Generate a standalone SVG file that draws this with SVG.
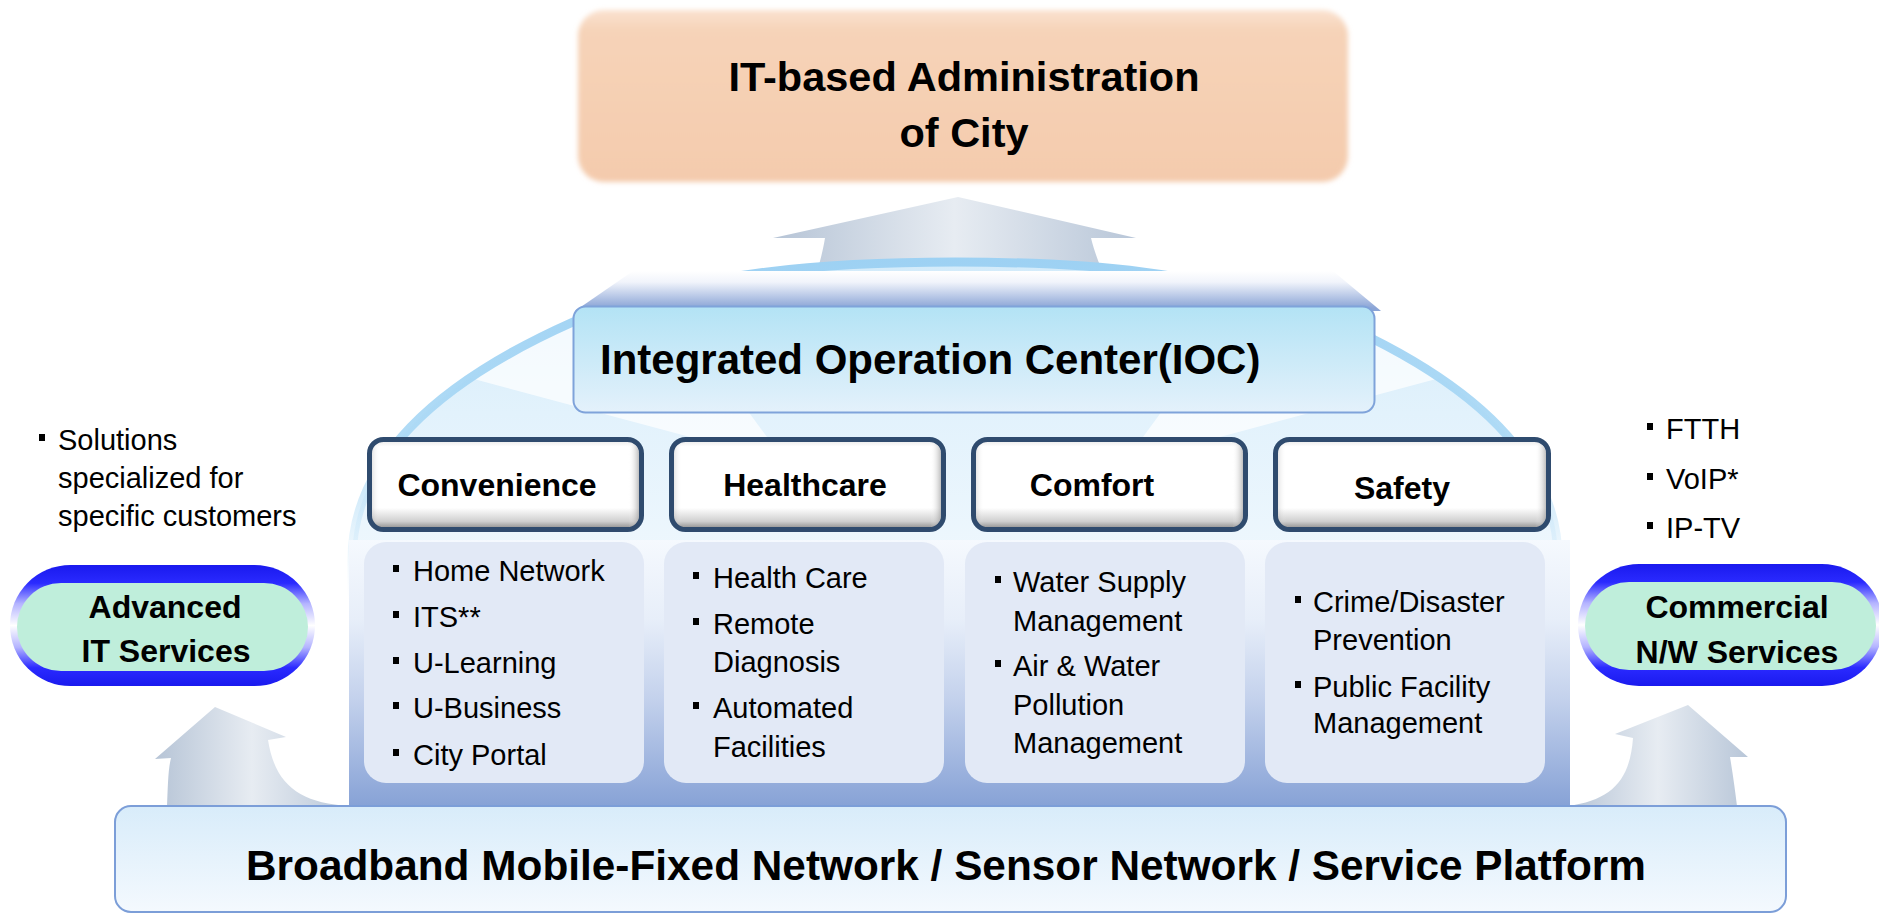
<svg xmlns="http://www.w3.org/2000/svg" width="1879" height="914" viewBox="0 0 1879 914">
<defs>
<style>
.t{font-family:"Liberation Sans",Arial,sans-serif;fill:#000}
.bt{font-weight:bold}
.body{font-size:29px}
.cat{font-size:32px;font-weight:bold;text-anchor:middle}
.pill{font-size:32px;font-weight:bold;text-anchor:middle}
.catbox{fill:url(#catFill);stroke:#2f4b6e;stroke-width:5}
.catside{fill:url(#catSide)}
.panel{fill:#e2e9f6}
.arrow{fill:url(#arrowG)}
.ring{fill:url(#ringG)}
.mint{fill:#bfeedb}
</style>
<linearGradient id="arrowG" x1="0" y1="0" x2="1" y2="0">
<stop offset="0" stop-color="#b6c4d6"/><stop offset="0.5" stop-color="#e7ecf2"/><stop offset="1" stop-color="#b8c6d8"/>
</linearGradient>
<linearGradient id="domeFill" gradientUnits="userSpaceOnUse" x1="0" y1="262" x2="0" y2="640">
<stop offset="0" stop-color="#d3ebfa"/><stop offset="0.4" stop-color="#e2f2fc"/><stop offset="1" stop-color="#f5fafe"/>
</linearGradient>
<linearGradient id="arcStroke" gradientUnits="userSpaceOnUse" x1="0" y1="255" x2="0" y2="600">
<stop offset="0" stop-color="#9dd1f3"/><stop offset="0.55" stop-color="#a9d8f5" stop-opacity="0.9"/><stop offset="1" stop-color="#cfe9fa" stop-opacity="0"/>
</linearGradient>
<linearGradient id="roofG" gradientUnits="userSpaceOnUse" x1="0" y1="271" x2="0" y2="308">
<stop offset="0" stop-color="#ffffff"/><stop offset="0.3" stop-color="#f1f4fb"/><stop offset="1" stop-color="#8aa4d6"/>
</linearGradient>
<linearGradient id="bodyG" gradientUnits="userSpaceOnUse" x1="0" y1="540" x2="0" y2="806">
<stop offset="0" stop-color="#f5f9fe"/><stop offset="0.3" stop-color="#e7eef9"/><stop offset="0.6" stop-color="#c3d1ec"/><stop offset="1" stop-color="#87a2d6"/>
</linearGradient>
<linearGradient id="iocG" x1="0" y1="0" x2="0" y2="1">
<stop offset="0" stop-color="#b3e3f5"/><stop offset="1" stop-color="#e4f1fb"/>
</linearGradient>
<linearGradient id="adminG" x1="0" y1="0" x2="0" y2="1">
<stop offset="0" stop-color="#fae2d0"/><stop offset="0.12" stop-color="#f6d3b8"/><stop offset="1" stop-color="#f4cbad"/>
</linearGradient>
<linearGradient id="baseG" x1="0" y1="0" x2="0" y2="1">
<stop offset="0" stop-color="#d8ecfa"/><stop offset="1" stop-color="#f4f9fe"/>
</linearGradient>
<linearGradient id="catFill" x1="0" y1="0" x2="0" y2="1">
<stop offset="0" stop-color="#e6e6e6"/><stop offset="0.08" stop-color="#ffffff"/><stop offset="0.76" stop-color="#ffffff"/><stop offset="0.91" stop-color="#cfcfcf"/><stop offset="1" stop-color="#858585"/>
</linearGradient>
<linearGradient id="catSide" x1="0" y1="0" x2="1" y2="0">
<stop offset="0" stop-color="#9a9a9a" stop-opacity="0.25"/><stop offset="0.03" stop-color="#ffffff" stop-opacity="0"/><stop offset="0.96" stop-color="#ffffff" stop-opacity="0"/><stop offset="1" stop-color="#8a8a8a" stop-opacity="0.55"/>
</linearGradient>
<linearGradient id="ringG" x1="0" y1="0" x2="0" y2="1">
<stop offset="0" stop-color="#1a1aee"/><stop offset="0.15" stop-color="#2a2aff"/><stop offset="0.32" stop-color="#b4b4ff"/><stop offset="0.5" stop-color="#ffffff"/><stop offset="0.68" stop-color="#b4b4ff"/><stop offset="0.85" stop-color="#2a2aff"/><stop offset="1" stop-color="#1a1aee"/>
</linearGradient>
<filter id="soft" x="-5%" y="-10%" width="110%" height="120%"><feGaussianBlur stdDeviation="2.5"/></filter>
<clipPath id="domeClip"><path d="M 352 640 L 352 560 C 352 470 420 390 573 322 C 693 269 840 262 955 262 C 1070 262 1217 269 1337 322 C 1490 390 1558 470 1558 560 L 1558 640 Z"/></clipPath>
<rect id="blt" width="6" height="7" fill="#000"/>
</defs>

<rect x="0" y="0" width="1879" height="914" fill="#ffffff"/>

<g id="connectors">
<path id="arrow-top" class="arrow" d="M 958 197 L 1136 238 L 1091 238 C 1094 250 1097 258 1101 268 L 818 268 C 821 258 823 250 825 238 L 773 238 Z"/>
<path id="arrow-left" class="arrow" d="M 215 707 L 286 737 L 268 740 C 275 785 300 803 349 806 L 167 806 C 168 785 168 770 171 758 L 155 759 Z"/>
<path id="arrow-right" class="arrow" d="M 1688 705 L 1748 757 L 1730 757 C 1733 775 1735 790 1737 806 L 1568 806 C 1612 800 1630 780 1633 738 L 1615 734 Z"/>
</g>

<g id="dome">
<path d="M 352 640 L 352 560 C 352 470 420 390 573 322 C 693 269 840 262 955 262 C 1070 262 1217 269 1337 322 C 1490 390 1558 470 1558 560 L 1558 640 Z" fill="url(#domeFill)"/>
<g clip-path="url(#domeClip)" fill="#ffffff" opacity="0.7">
<polygon points="470,378 613,227 767,437 690,437"/>
<polygon points="1440,378 1297,227 1143,437 1220,437"/>
</g>
<path d="M 352 600 L 352 560 C 352 470 420 390 573 322 C 693 269 840 262 955 262 C 1070 262 1217 269 1337 322 C 1490 390 1558 470 1558 560 L 1558 600" fill="none" stroke="url(#arcStroke)" stroke-width="9"/>
<polygon points="633,271 1333,271 1381,311 575,311" fill="url(#roofG)"/>
<rect x="349" y="540" width="1221" height="266" fill="url(#bodyG)"/>
</g>

<g id="node-ioc">
<rect x="573.5" y="306.5" width="801" height="106" rx="12" fill="url(#iocG)" stroke="#7fa3da" stroke-width="2"/>
<text class="t bt" x="600" y="374" font-size="42">Integrated Operation Center(IOC)</text>
</g>

<g id="node-admin">
<rect x="578" y="10" width="770" height="172" rx="26" fill="url(#adminG)" filter="url(#soft)"/>
<text class="t bt" x="964" y="91" font-size="41.5" text-anchor="middle">IT-based Administration</text>
<text class="t bt" x="964" y="147" font-size="41.5" text-anchor="middle">of City</text>
</g>

<g id="node-convenience">
<rect class="catbox" x="369.5" y="439.5" width="272" height="90" rx="14"/>
<rect class="catside" x="372" y="442" width="267" height="85" rx="12"/>
<text class="t cat" x="497" y="496">Convenience</text>
<rect class="panel" x="364" y="542" width="280" height="241" rx="22"/>
<use href="#blt" x="393" y="565"/><text class="t body" x="413" y="581">Home Network</text>
<use href="#blt" x="393" y="611"/><text class="t body" x="413" y="627">ITS**</text>
<use href="#blt" x="393" y="657"/><text class="t body" x="413" y="673">U-Learning</text>
<use href="#blt" x="393" y="702"/><text class="t body" x="413" y="718">U-Business</text>
<use href="#blt" x="393" y="749"/><text class="t body" x="413" y="765">City Portal</text>
</g>

<g id="node-healthcare">
<rect class="catbox" x="671.5" y="439.5" width="272" height="90" rx="14"/>
<rect class="catside" x="674" y="442" width="267" height="85" rx="12"/>
<text class="t cat" x="805" y="496">Healthcare</text>
<rect class="panel" x="664" y="542" width="280" height="241" rx="22"/>
<use href="#blt" x="693" y="572"/><text class="t body" x="713" y="588">Health Care</text>
<use href="#blt" x="693" y="618"/><text class="t body" x="713" y="634">Remote</text>
<text class="t body" x="713" y="672">Diagnosis</text>
<use href="#blt" x="693" y="702"/><text class="t body" x="713" y="718">Automated</text>
<text class="t body" x="713" y="757">Facilities</text>
</g>

<g id="node-comfort">
<rect class="catbox" x="973.5" y="439.5" width="272" height="90" rx="14"/>
<rect class="catside" x="976" y="442" width="267" height="85" rx="12"/>
<text class="t cat" x="1092" y="496">Comfort</text>
<rect class="panel" x="965" y="542" width="280" height="241" rx="22"/>
<use href="#blt" x="995" y="576"/><text class="t body" x="1013" y="592">Water Supply</text>
<text class="t body" x="1013" y="631">Management</text>
<use href="#blt" x="995" y="660"/><text class="t body" x="1013" y="676">Air &amp; Water</text>
<text class="t body" x="1013" y="715">Pollution</text>
<text class="t body" x="1013" y="753">Management</text>
</g>

<g id="node-safety">
<rect class="catbox" x="1275.5" y="439.5" width="273" height="90" rx="14"/>
<rect class="catside" x="1278" y="442" width="268" height="85" rx="12"/>
<text class="t cat" x="1402" y="499">Safety</text>
<rect class="panel" x="1265" y="542" width="280" height="241" rx="22"/>
<use href="#blt" x="1295" y="596"/><text class="t body" x="1313" y="612">Crime/Disaster</text>
<text class="t body" x="1313" y="650">Prevention</text>
<use href="#blt" x="1295" y="681"/><text class="t body" x="1313" y="697">Public Facility</text>
<text class="t body" x="1313" y="733">Management</text>
</g>

<g id="node-platform">
<rect x="115" y="806" width="1671" height="106" rx="16" fill="url(#baseG)" stroke="#7c9ed8" stroke-width="2"/>
<text class="t bt" x="946" y="880" font-size="42" text-anchor="middle" textLength="1400" lengthAdjust="spacingAndGlyphs">Broadband Mobile-Fixed Network / Sensor Network / Service Platform</text>
</g>

<g id="node-advanced">
<rect class="ring" x="10" y="565" width="305" height="121" rx="60.5"/>
<rect class="mint" x="17" y="583" width="291" height="88" rx="44"/>
<text class="t pill" x="165" y="618">Advanced</text>
<text class="t pill" x="166" y="662">IT Services</text>
</g>

<g id="note-left">
<use href="#blt" x="39" y="434"/>
<text class="t body" x="58" y="450">Solutions</text>
<text class="t body" x="58" y="488">specialized for</text>
<text class="t body" x="58" y="526">specific customers</text>
</g>

<g id="node-commercial">
<rect class="ring" x="1578" y="564" width="305" height="122" rx="61"/>
<rect class="mint" x="1585" y="582" width="291" height="88" rx="44"/>
<text class="t pill" x="1737" y="618">Commercial</text>
<text class="t pill" x="1737" y="663">N/W Services</text>
</g>

<g id="note-right">
<use href="#blt" x="1647" y="423"/><text class="t body" x="1666" y="439">FTTH</text>
<use href="#blt" x="1647" y="473"/><text class="t body" x="1666" y="489">VoIP*</text>
<use href="#blt" x="1647" y="522"/><text class="t body" x="1666" y="538">IP-TV</text>
</g>
</svg>
